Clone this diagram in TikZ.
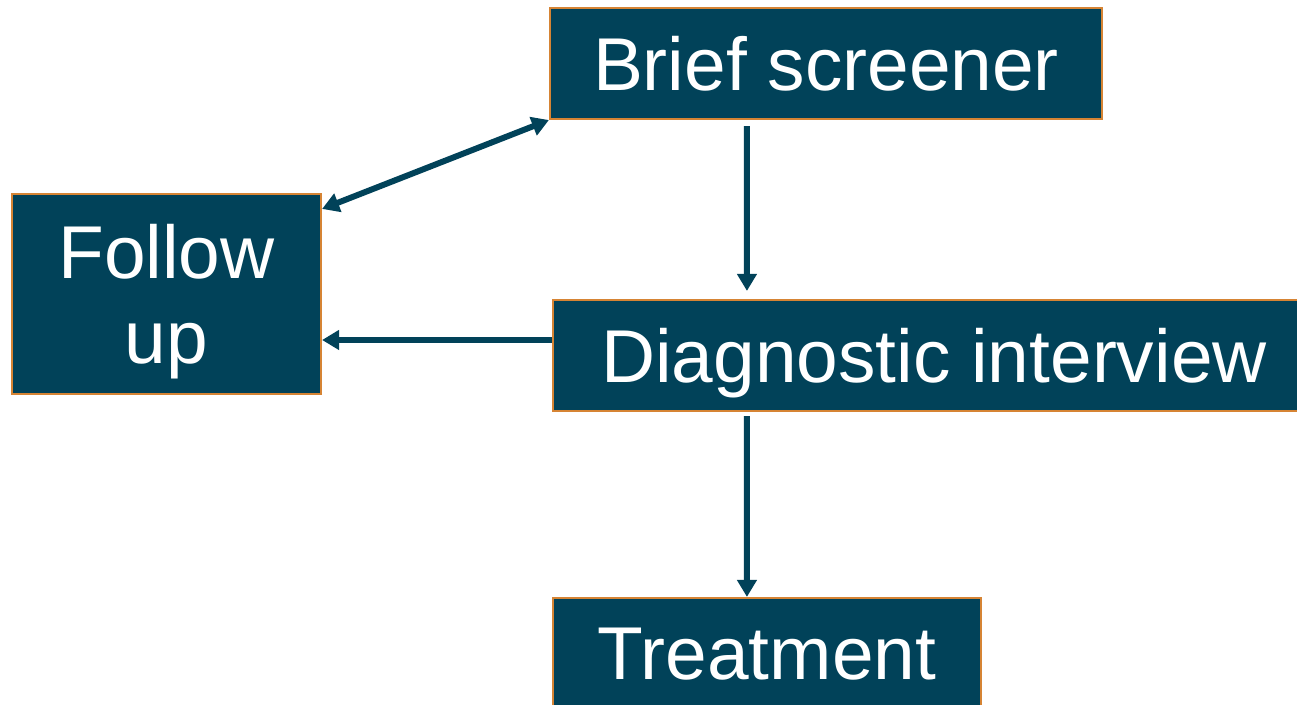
\documentclass[tikz,border=0pt]{standalone}
\usepackage{fontspec}
\setmainfont{Liberation Sans}
\usepackage{tikz}
\usetikzlibrary{arrows.meta,calc,positioning}
\definecolor{boxteal}{RGB}{1,66,89}
\definecolor{boxedge}{RGB}{214,132,52}

\begin{document}
\begin{tikzpicture}[
    box/.style={draw=boxedge,line width=0.6pt,fill=boxteal,text=white,
      inner sep=0pt,text depth=0pt,align=center,
      font=\fontsize{21.3}{24}\selectfont},
    link/.style={draw=boxteal,line width=1.7pt,
      -{Triangle[width=1.9mm,length=1.7mm]}}]
  \useasboundingbox (0,0) rectangle (12.97,7.05);
  \clip (0,0) rectangle (12.97,7.05);
  \node[box,minimum width=5.52cm,minimum height=1.11cm] (scr) at (8.26,6.415) {Brief screener};
  \node[box,minimum width=3.09cm,minimum height=2cm] (fol) at (1.665,4.11) {Follow\\up};
  \node[box,minimum width=7.62cm,minimum height=1.11cm] (diag) at (9.34,3.495) {Diagnostic interview};
  \node[box,minimum width=4.28cm,minimum height=1.12cm] (treat) at (7.67,0.51) {Treatment};
  \draw[link,shorten <=0.6mm,shorten >=0.8mm] ([xshift=1.98cm]scr.south west) -- ([xshift=1.95cm]diag.north west);
  \draw[link] ([yshift=1.55mm]diag.west) coordinate (dw) -- (dw -| fol.east);
  \draw[link,{Triangle[width=1.9mm,length=1.7mm]}-{Triangle[width=1.9mm,length=1.7mm]}]
    ([yshift=-1.6mm]fol.north east) -- (scr.south west);
  \draw[link,shorten <=0.4mm] ([xshift=1.95cm]diag.south west) -- ([xshift=1.95cm]treat.north west);
\end{tikzpicture}
\end{document}
